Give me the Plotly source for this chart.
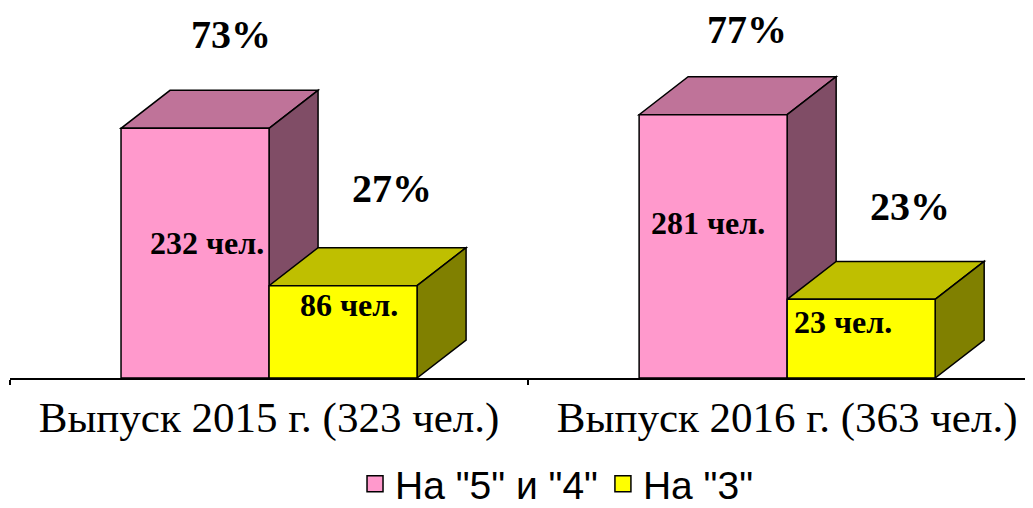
import plotly.graph_objects as go

# ---------------- data ----------------
categories = ["Выпуск 2015 г. (323 чел.)", "Выпуск 2016 г. (363 чел.)"]
series_names = ['На "5" и "4"', 'На "3"']
pct_good = [73, 77]          # bar heights, %
pct_sat = [27, 23]
pct_good_labels = ["73%", "77%"]
pct_sat_labels = ["27%", "23%"]
count_good_labels = ["232 чел.", "281 чел."]
count_sat_labels = ["86 чел.", "23 чел."]

# ---------------- style ----------------
FONT = "Liberation Serif"
LEG_FONT = "Liberation Sans"
W = 0.2857        # bar width (category units)
DX = 0.0946       # 3D depth, x (category units)
DY = 11.1         # 3D depth, y (value units)
series_style = [
    dict(front="#FF99CC", top="#BF7399", side="#804D66"),
    dict(front="#FFFF00", top="#BFBF00", side="#808000"),
]
pct_xshift = [[-13, -15], [0, 0]]     # px, per series / category
pct_yshift = [[56, 47], [59, 55]]     # px above back top edge
count_shift = [[(12, 0.54), (-5, 0.59)], [(6, 0.79), (-18, 0.71)]]  # (xshift px, fraction of height)

xc = list(range(len(categories)))
values = [pct_good, pct_sat]
pct_labels = [pct_good_labels, pct_sat_labels]
count_labels = [count_good_labels, count_sat_labels]
offsets = [-W, 0.0]

fig = go.Figure()
shapes = []
annotations = []
for s in range(2):
    st = series_style[s]
    fig.add_trace(go.Bar(
        x=xc, y=values[s], width=W, offset=offsets[s], name=series_names[s],
        marker=dict(color=st["front"], line=dict(color="black", width=1.5)),
        showlegend=False, hoverinfo="skip"))
    for i, v in enumerate(values[s]):
        x0 = xc[i] + offsets[s]
        x1 = x0 + W
        top = f"M {x0},{v} L {x1},{v} L {x1+DX},{v+DY} L {x0+DX},{v+DY} Z"
        side = f"M {x1},0 L {x1},{v} L {x1+DX},{v+DY} L {x1+DX},{DY} Z"
        for path, col in ((top, st["top"]), (side, st["side"])):
            shapes.append(dict(type="path", path=path, xref="x", yref="y",
                               fillcolor=col, line=dict(color="black", width=1.5),
                               layer="below"))
        annotations.append(dict(
            x=(x0 + x1) / 2 + DX, y=v + DY, xref="x", yref="y", yanchor="middle",
            yshift=pct_yshift[s][i], xshift=pct_xshift[s][i], text=pct_labels[s][i],
            showarrow=False,
            font=dict(family=FONT, size=40, color="black", weight="bold")))
        xs, fr = count_shift[s][i]
        annotations.append(dict(
            x=(x0 + x1) / 2, y=v * fr, xref="x", yref="y", xshift=xs,
            text=count_labels[s][i], showarrow=False,
            font=dict(family=FONT, size=32, color="black", weight="bold")))

# legend entries
for s in range(2):
    fig.add_trace(go.Scatter(
        x=[None], y=[None], mode="markers", name=series_names[s],
        marker=dict(symbol="square", size=16, color=series_style[s]["front"],
                    line=dict(color="black", width=1.5))))

fig.update_layout(
    width=1033, height=508,
    margin=dict(l=2, r=0, t=2, b=138, autoexpand=False),
    paper_bgcolor="white", plot_bgcolor="white",
    barmode="overlay",
    shapes=shapes, annotations=annotations,
    font=dict(family=FONT, color="black"),
    showlegend=True,
    legend=dict(orientation="h", xref="container", yref="container",
                x=0.531, y=-0.02, xanchor="center", yanchor="bottom",
                font=dict(family=LEG_FONT, size=39, color="black"),
                itemwidth=30, tracegroupgap=0),
    xaxis=dict(range=[-0.5, 1.490], tickmode="array", tickvals=xc, ticktext=categories,
               ticks="", showgrid=False, zeroline=False, showline=True,
               linecolor="black", linewidth=2, ticklabelstandoff=0,
               tickfont=dict(family=FONT, size=43, color="black"),
               minor=dict(tickmode="array", tickvals=[-0.5, 0.5, 1.5], ticks="outside",
                          ticklen=5, tickwidth=2, tickcolor="black", showgrid=False)),
    yaxis=dict(range=[0, 107.6], visible=False, fixedrange=True),
)

fig.write_html("out.html")
